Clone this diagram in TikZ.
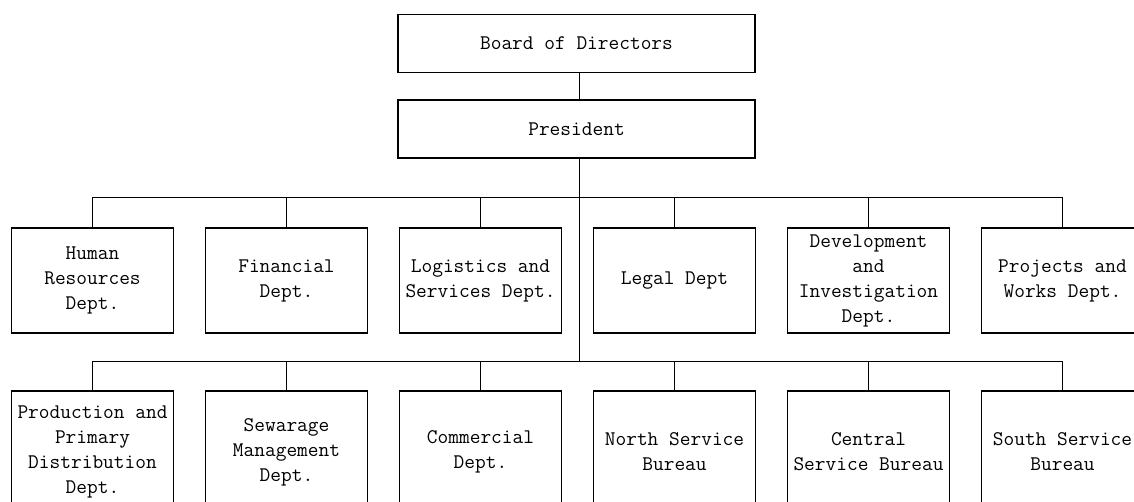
\documentclass[tikz,border=0pt]{standalone}
\usetikzlibrary{positioning}
\tikzset{
    unit/.style={draw, line width=1.6pt, minimum width=162pt, minimum height=105pt, inner sep=2pt, align=center, font=\ttfamily\fontsize{20.8}{25}\selectfont}, % one box per department
    top/.style={unit, minimum width=357pt, minimum height=58pt}, % the two boxes at the head
    low/.style={unit, minimum height=122pt}, % second row, taller
    link/.style={line width=1pt}, % the connecting lines
    node distance=30.4pt,
}
\begin{document}
\begin{tikzpicture}[x=1pt, y=1pt]
    \useasboundingbox[clip] (0,0) rectangle (1134,-501);
    \node[top] (board) at (576.5,-43.5) {Board of Directors};
    \node[top, below=26pt of board] (pres) {President};
    % first row
    \node[unit] (hr) at (92.5,-280.5) {Human\\Resources\\Dept.};
    \node[unit, right=of hr] (fin) {Financial\\Dept.};
    \node[unit, right=of fin] (logi) {Logistics and\\Services Dept.};
    \node[unit, right=of logi] (legal) {Legal Dept};
    \node[unit, right=of legal] (devel) {Development\\and\\Investigation\\Dept.};
    \node[unit, right=of devel] (proj) {Projects and\\Works Dept.};
    % second row
    \node[low] (prod) at (92.5,-452) {Production and\\Primary\\Distribution\\Dept.};
    \node[low, right=of prod] (sewer) {Sewarage\\Management\\Dept.};
    \node[low, right=of sewer] (comm) {Commercial\\Dept.};
    \node[low, right=of comm] (north) {North Service\\Bureau};
    \node[low, right=of north] (central) {Central\\Service Bureau};
    \node[low, right=of central] (south) {South Service\\Bureau};
    \coordinate (bus1) at (579,-197);
    \coordinate (bus2) at (579,-361);
    \draw[link] (board.south -| bus1) -- (pres.north -| bus1);
    \draw[link] (pres.south -| bus1) -- (bus2);
    \draw[link] (hr.north |- bus1) -- (proj.north |- bus1);
    \draw[link] (prod.north |- bus2) -- (south.north |- bus2);
    \foreach \n in {hr, fin, logi, legal, devel, proj}
        \draw[link] (\n.north) -- (\n.north |- bus1);
    \foreach \n in {prod, sewer, comm, north, central, south}
        \draw[link] (\n.north) -- (\n.north |- bus2);
\end{tikzpicture}
\end{document}
